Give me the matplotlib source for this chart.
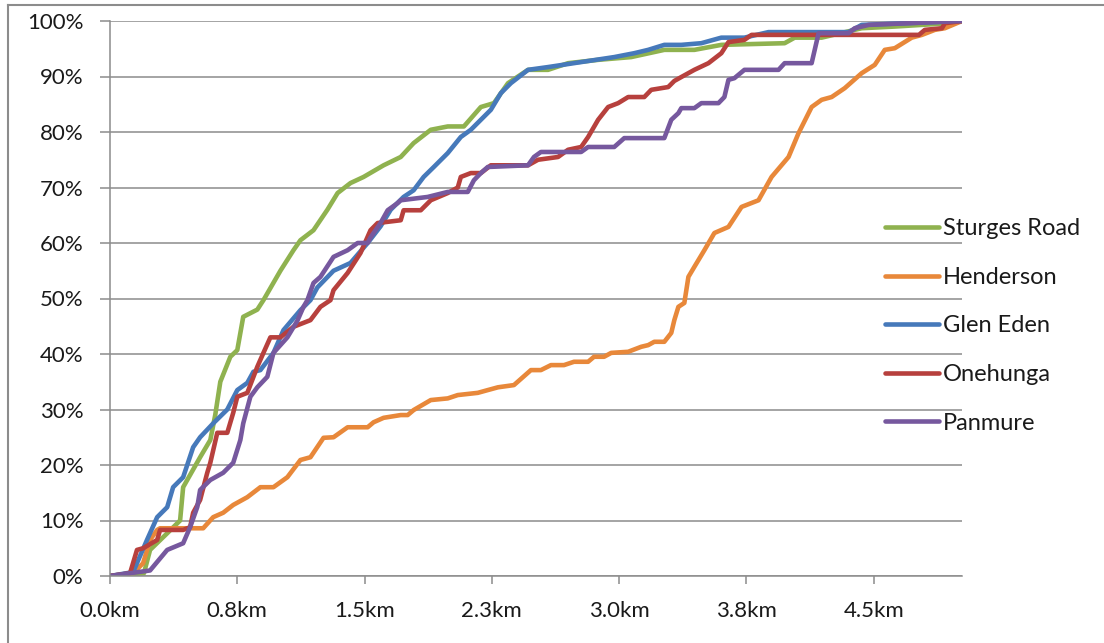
import matplotlib
matplotlib.use("Agg")
import matplotlib.pyplot as plt
from matplotlib.lines import Line2D

plt.rcParams['font.family'] = ['Lato', 'DejaVu Sans']

series_names = ["Sturges Road", "Henderson", "Glen Eden", "Onehunga", "Panmure"]
series_colors = ["#8FB24F", "#E8883A", "#4679BA", "#B7403D", "#76589E"]

sturges_x = [0, 0.20, 0.236, 0.337, 0.413, 0.431, 0.531, 0.591, 0.620, 0.650, 0.709, 0.750, 0.785,
             0.868, 0.904, 1.004, 1.081, 1.122, 1.199, 1.281, 1.341, 1.417, 1.494, 1.612, 1.713,
             1.789, 1.890, 1.990, 2.085, 2.185, 2.262, 2.345, 2.463, 2.581, 2.699, 2.876, 3.071,
             3.266, 3.443, 3.602, 3.975, 4.034, 4.193, 4.429, 4.624, 4.784, 4.943, 5.02]
sturges_y = [0, 0.5, 4.7, 7.7, 10, 16, 21.4, 24.5, 29, 35, 39.5, 40.7, 46.7,
             48, 49.7, 55, 58.7, 60.5, 62.3, 66, 69, 70.8, 71.9, 74, 75.5,
             78, 80.4, 81, 81, 84.5, 85.2, 88.8, 91.2, 91.2, 92.4, 93, 93.5,
             94.8, 94.8, 95.7, 96, 97, 97, 98.7, 99, 99.3, 99.6, 100]

henderson_x = [0, 0.136, 0.195, 0.236, 0.278, 0.295, 0.549, 0.608, 0.667, 0.726, 0.809, 0.886,
               0.963, 1.045, 1.122, 1.181, 1.258, 1.317, 1.400, 1.518, 1.553, 1.612, 1.713,
               1.754, 1.789, 1.890, 1.990, 2.049, 2.167, 2.226, 2.286, 2.380, 2.480, 2.539,
               2.598, 2.675, 2.734, 2.817, 2.852, 2.911, 2.953, 3.053, 3.130, 3.171, 3.207,
               3.266, 3.307, 3.325, 3.349, 3.384, 3.408, 3.443, 3.502, 3.561, 3.644, 3.721,
               3.821, 3.898, 3.998, 4.057, 4.134, 4.193, 4.252, 4.329, 4.429, 4.506, 4.565,
               4.624, 4.724, 4.784, 4.860, 4.919, 5.02]
henderson_y = [0, 0.5, 2.3, 6.5, 8.3, 8.6, 8.6, 10.6, 11.4, 12.8, 14.2, 16,
               16, 17.8, 20.9, 21.4, 24.9, 25, 26.8, 26.8, 27.7, 28.5, 29,
               29, 29.9, 31.7, 32, 32.6, 33, 33.5, 34, 34.4, 37.1, 37.1,
               38, 38, 38.6, 38.6, 39.5, 39.5, 40.2, 40.4, 41.3, 41.6, 42.2,
               42.2, 43.8, 46.1, 48.5, 49.2, 53.9, 55.7, 58.7, 61.8, 62.9, 66.5,
               67.7, 71.9, 75.5, 79.8, 84.5, 85.8, 86.3, 87.9, 90.6, 92.1, 94.8,
               95.1, 97, 97.5, 98.4, 98.7, 100]

gleneden_x = [0, 0.136, 0.218, 0.278, 0.337, 0.372, 0.431, 0.490, 0.531, 0.608, 0.691, 0.750,
              0.809, 0.845, 0.886, 0.963, 1.022, 1.122, 1.181, 1.222, 1.317, 1.417, 1.518,
              1.594, 1.654, 1.730, 1.789, 1.848, 1.908, 1.990, 2.067, 2.126, 2.185, 2.244,
              2.303, 2.362, 2.463, 2.581, 2.776, 2.971, 3.089, 3.171, 3.266, 3.366, 3.484,
              3.602, 3.738, 3.880, 4.352, 4.429, 5.02]
gleneden_y = [0, 0.7, 6.5, 10.6, 12.4, 16, 17.8, 23.2, 25, 27.5, 30, 33.5,
              34.8, 36.8, 37.1, 40.2, 44.3, 47.9, 49.7, 52, 55, 56.4, 60,
              63, 66, 68.3, 69.5, 71.9, 73.7, 76.2, 79.1, 80.4, 82.2, 84,
              87, 88.8, 91.2, 91.7, 92.6, 93.5, 94.2, 94.8, 95.7, 95.7, 96,
              97, 97, 98, 98, 99.3, 100]

onehunga_x = [0, 0.118, 0.159, 0.195, 0.278, 0.295, 0.431, 0.472, 0.490, 0.531, 0.573, 0.591,
              0.632, 0.691, 0.726, 0.750, 0.809, 0.868, 0.904, 0.945, 1.004, 1.081, 1.181,
              1.240, 1.299, 1.317, 1.400, 1.476, 1.535, 1.577, 1.713, 1.730, 1.831, 1.890,
              1.990, 2.049, 2.067, 2.126, 2.185, 2.244, 2.463, 2.522, 2.640, 2.699, 2.776,
              2.817, 2.876, 2.935, 2.994, 3.053, 3.148, 3.189, 3.289, 3.325, 3.366, 3.443,
              3.526, 3.602, 3.644, 3.738, 3.780, 4.766, 4.801, 4.902, 4.919, 5.02]
onehunga_y = [0, 0.5, 4.7, 5, 6.5, 8.3, 8.3, 8.8, 11.4, 13.7, 18.6, 20.4,
              25.8, 25.8, 29.4, 32.3, 33, 37.7, 40.2, 43, 43, 44.9, 46.1,
              48.5, 49.7, 51.5, 54.6, 58.2, 62.3, 63.6, 64.1, 65.9, 65.9, 67.7,
              69, 70, 71.9, 72.6, 72.6, 74, 74, 75, 75.5, 76.8, 77.3,
              79.1, 82.2, 84.5, 85.2, 86.3, 86.3, 87.6, 88.1, 89.2, 89.9, 91.2,
              92.4, 94.2, 96.2, 96.6, 97.5, 97.5, 98.4, 98.7, 99.6, 100]

panmure_x = [0, 0.236, 0.337, 0.431, 0.472, 0.514, 0.531, 0.591, 0.667, 0.726, 0.768, 0.785,
             0.827, 0.868, 0.927, 0.963, 1.045, 1.104, 1.140, 1.163, 1.199, 1.240, 1.317,
             1.400, 1.459, 1.518, 1.535, 1.594, 1.636, 1.695, 1.713, 1.872, 1.990, 2.108,
             2.144, 2.185, 2.226, 2.463, 2.498, 2.539, 2.776, 2.817, 2.971, 3.030, 3.266,
             3.307, 3.349, 3.366, 3.443, 3.484, 3.585, 3.620, 3.644, 3.679, 3.738, 3.939,
             3.975, 4.134, 4.175, 4.352, 4.388, 4.471, 5.02]
panmure_y = [0, 1, 4.7, 5.9, 8.8, 12.4, 15.5, 17.3, 18.6, 20.4, 24.5, 27.5,
             32.3, 34, 35.9, 40.2, 43, 46, 48.5, 49.7, 52.8, 53.9, 57.5,
             58.7, 60, 60, 61, 63.6, 65.9, 67.2, 67.7, 68.3, 69.2, 69.2,
             71.3, 72.6, 73.7, 74, 75.5, 76.4, 76.4, 77.3, 77.3, 78.9, 78.9,
             82.2, 83.4, 84.3, 84.3, 85.2, 85.2, 86.3, 89.4, 89.7, 91.2, 91.2,
             92.4, 92.4, 97.8, 97.8, 98.7, 99.3, 100]

x_ticks = [0, 0.75, 1.5, 2.25, 3.0, 3.75, 4.5]
x_tick_labels = ["0.0km", "0.8km", "1.5km", "2.3km", "3.0km", "3.8km", "4.5km"]
y_ticks = [0, 10, 20, 30, 40, 50, 60, 70, 80, 90, 100]
y_tick_labels = [f"{v}%" for v in y_ticks]

all_x = [sturges_x, henderson_x, gleneden_x, onehunga_x, panmure_x]
all_y = [sturges_y, henderson_y, gleneden_y, onehunga_y, panmure_y]

W, H = 1104, 643
fig = plt.figure(figsize=(W / 100, H / 100), dpi=100)
fig.patch.set_facecolor("white")
ax = fig.add_axes([110 / W, 1 - 576 / H, (962 - 110) / W, (576 - 21) / H])

grid_c = "#8C8C8C"
for xs, ys, name, c in zip(all_x, all_y, series_names, series_colors):
    ax.plot(xs, ys, color=c, lw=3.3, label=name, solid_joinstyle="round",
            solid_capstyle="round")

ax.set_xlim(0, 5.02)
ax.set_ylim(0, 100)
ax.set_xticks(x_ticks)
ax.set_xticklabels(x_tick_labels)
ax.set_yticks(y_ticks)
ax.set_yticklabels(y_tick_labels)
ax.yaxis.grid(True, color=grid_c, lw=1.1)
ax.set_axisbelow(True)
for s in ["top", "right"]:
    ax.spines[s].set_visible(False)
for s in ["left", "bottom"]:
    ax.spines[s].set_color(grid_c)
    ax.spines[s].set_linewidth(1.1)
ax.tick_params(axis="y", length=7, width=1.1, color=grid_c, pad=12,
               labelsize=16, labelcolor="#1a1a1a")
ax.tick_params(axis="x", length=6, width=1.1, color=grid_c, pad=12,
               labelsize=16, labelcolor="#1a1a1a")

leg = ax.legend(loc="center left", bbox_to_anchor=(885 / W, 1 - 326 / H),
                bbox_transform=fig.transFigure, frameon=False, fontsize=17,
                handlelength=2.3, handletextpad=0.15, labelspacing=1.17,
                borderpad=0, borderaxespad=0)
for t in leg.get_texts():
    t.set_color("#1a1a1a")

# outer figure border (left and top)
fig.add_artist(Line2D([8 / W, 8 / W], [0, 1 - 5 / H], transform=fig.transFigure,
                      color="#8C8C8C", lw=1.5))
fig.add_artist(Line2D([8 / W, 1], [1 - 5 / H, 1 - 5 / H], transform=fig.transFigure,
                      color="#8C8C8C", lw=1.5))

fig.savefig("out.png", dpi=100)
